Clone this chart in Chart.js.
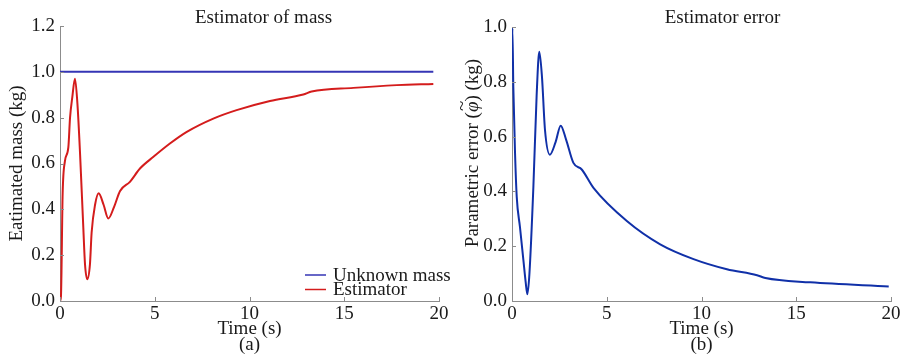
<!DOCTYPE html>
<html>
<head>
<meta charset="utf-8">
<script src="https://cdn.jsdelivr.net/npm/chart.js@4/dist/chart.umd.min.js"></script>
<style>
  body { margin: 0; background: #fff; }
  #wrap { position: relative; width: 904px; height: 356px; overflow: hidden; }
  canvas { position: absolute; top: 0; }
  #massChart { left: 0; }
  #errorChart { left: 450px; }
</style>
</head>
<body>
<div id="wrap">
  <canvas id="massChart" width="470" height="356"></canvas>
  <canvas id="errorChart" width="454" height="356"></canvas>
</div>
<script>
// (a) estimator of mass
const massTime = [0, 0.05, 0.14, 0.26, 0.44, 0.53, 0.65, 0.79, 0.92, 1.06, 1.23, 1.32, 1.44, 1.58, 1.67, 1.85, 2.04, 2.3, 2.55, 2.85, 3.17, 3.69, 4.22, 4.93, 5.8, 6.69, 8.09, 9.32, 11.08, 12.84, 13.28, 15.48, 17.77, 19.7];
const massEstimate = [0, 0.02, 0.47, 0.61, 0.67, 0.80, 0.89, 0.97, 0.86, 0.64, 0.32, 0.16, 0.095, 0.16, 0.30, 0.42, 0.47, 0.42, 0.36, 0.41, 0.48, 0.52, 0.578, 0.629, 0.687, 0.738, 0.796, 0.833, 0.873, 0.901, 0.914, 0.930, 0.942, 0.947];
const trueMassTime = [0, 19.7];
const trueMass = [1.0, 1.0];

// (b) estimator error
const errTime = [0, 0.02, 0.07, 0.16, 0.25, 0.42, 0.6, 0.72, 0.81, 0.92, 1.13, 1.3, 1.44, 1.58, 1.74, 2.0, 2.3, 2.57, 2.85, 3.24, 3.68, 4.3, 6.06, 7.82, 9.58, 11.34, 12.93, 13.37, 15.74, 19.88];
const errValues = [0.93, 0.995, 0.78, 0.54, 0.38, 0.27, 0.15, 0.07, 0.025, 0.1, 0.42, 0.75, 0.91, 0.82, 0.625, 0.534, 0.58, 0.64, 0.59, 0.504, 0.48, 0.413, 0.292, 0.207, 0.153, 0.116, 0.094, 0.084, 0.068, 0.053];

const serif = '"Liberation Serif", "Times New Roman", serif';
const axisColor = '#8c8c8c';
const textColor = '#1a1a1a';

const toPoints = (xs, ys) => xs.map((x, i) => ({ x, y: ys[i] }));

// ticks point into the plot, like the original figure
const inwardTicks = {
  id: 'inwardTicks',
  afterDraw(chart) {
    const { ctx, chartArea: a, scales: { x, y } } = chart;
    ctx.save();
    ctx.strokeStyle = axisColor;
    ctx.lineWidth = 1;
    ctx.beginPath();
    x.ticks.forEach(t => {
      const px = Math.round(x.getPixelForValue(t.value)) + 0.5;
      ctx.moveTo(px, a.bottom);
      ctx.lineTo(px, a.bottom - 4);
    });
    y.ticks.forEach(t => {
      const py = Math.round(y.getPixelForValue(t.value)) + 0.5;
      ctx.moveTo(a.left, py);
      ctx.lineTo(a.left + 4, py);
    });
    ctx.stroke();
    ctx.restore();
  }
};

function drawSegments(ctx, segs, size) {
  // measure, then draw centred on the current origin
  const widths = segs.map(s => {
    ctx.font = (s.italic ? 'italic ' : '') + size + 'px ' + serif;
    return ctx.measureText(s.text).width;
  });
  let x = -widths.reduce((p, w) => p + w, 0) / 2;
  segs.forEach((s, i) => {
    ctx.font = (s.italic ? 'italic ' : '') + size + 'px ' + serif;
    ctx.fillText(s.text, x, 0);
    if (s.tilde) {
      ctx.font = size + 'px ' + serif;
      ctx.textAlign = 'center';
      ctx.fillText('~', x + widths[i] / 2 + 1, -size * 0.55);
      ctx.textAlign = 'left';
    }
    x += widths[i];
  });
}

const panelText = {
  id: 'panelText',
  afterDraw(chart, args, opts) {
    const { ctx, chartArea: a } = chart;
    const cx = (a.left + a.right) / 2;
    ctx.save();
    ctx.fillStyle = textColor;
    ctx.textBaseline = 'middle';
    ctx.textAlign = 'center';
    ctx.font = '19px ' + serif;
    ctx.fillText(opts.title, cx + opts.titleDx, 18);
    ctx.fillText(opts.xTitle, cx, 329);
    ctx.fillText(opts.tag, cx, 345);

    ctx.translate(opts.yTitleX, (a.top + a.bottom) / 2 + opts.yTitleDy);
    ctx.rotate(-Math.PI / 2);
    ctx.textAlign = 'left';
    drawSegments(ctx, opts.yTitle, 19);
    ctx.restore();

    if (opts.legend) {
      ctx.save();
      ctx.textBaseline = 'middle';
      ctx.font = '19px ' + serif;
      chart.data.datasets.forEach((ds, i) => {
        const ly = 275 + i * 14.5;
        ctx.strokeStyle = ds.borderColor;
        ctx.lineWidth = 1.5;
        ctx.beginPath();
        ctx.moveTo(305, ly);
        ctx.lineTo(326, ly);
        ctx.stroke();
        ctx.fillStyle = textColor;
        ctx.fillText(ds.label, 333, ly + 1);
      });
      ctx.restore();
    }
  }
};

function makeOptions(yMax, pad, text) {
  return {
    responsive: false,
    animation: false,
    layout: { padding: pad },
    elements: { point: { radius: 0 } },
    plugins: {
      legend: { display: false },
      tooltip: { enabled: false },
      panelText: text
    },
    scales: {
      x: {
        type: 'linear',
        min: 0,
        max: 20,
        afterFit: s => { s.height = 55; },
        grid: { display: false, drawTicks: false },
        border: { color: axisColor, width: 1 },
        ticks: {
          stepSize: 5,
          padding: 2,
          maxRotation: 0,
          color: textColor,
          font: { family: serif, size: 19 }
        }
      },
      y: {
        min: 0,
        max: yMax,
        afterFit: s => { s.width = pad.yWidth; },
        grid: { display: false, drawTicks: false },
        border: { color: axisColor, width: 1 },
        ticks: {
          stepSize: 0.2,
          padding: 5,
          color: textColor,
          font: { family: serif, size: 19 },
          callback: v => v.toFixed(1)
        }
      }
    }
  };
}

const massOpts = makeOptions(1.2, { left: 0, right: 31, top: 26, bottom: 0, yWidth: 60 }, {
  title: 'Estimator of mass',
  titleDx: 14,
  xTitle: 'Time (s)',
  tag: '(a)',
  yTitle: [{ text: 'Eatimated mass (kg)' }],
  yTitleX: 17,
  yTitleDy: 0,
  legend: true
});

new Chart(document.getElementById('massChart'), {
  type: 'line',
  data: {
    datasets: [
      {
        label: 'Unknown mass',
        data: toPoints(trueMassTime, trueMass),
        borderColor: '#3535b5',
        borderWidth: 2
      },
      {
        label: 'Estimator',
        data: toPoints(massTime, massEstimate),
        borderColor: '#d41c1c',
        borderWidth: 2,
        cubicInterpolationMode: 'monotone'
      }
    ]
  },
  options: massOpts,
  plugins: [inwardTicks, panelText]
});

const errOpts = makeOptions(1.0, { left: 0, right: 13, top: 27, bottom: 0, yWidth: 62 }, {
  title: 'Estimator error',
  titleDx: 21,
  xTitle: 'Time (s)',
  tag: '(b)',
  yTitle: [{ text: 'Parametric error (' }, { text: 'φ', italic: true, tilde: true }, { text: ') (kg)' }],
  yTitleX: 23,
  yTitleDy: -11,
  legend: false
});

new Chart(document.getElementById('errorChart'), {
  type: 'line',
  data: {
    datasets: [{
      label: 'Estimator error',
      data: toPoints(errTime, errValues),
      borderColor: '#1030a8',
      borderWidth: 2,
      cubicInterpolationMode: 'monotone'
    }]
  },
  options: errOpts,
  plugins: [inwardTicks, panelText]
});
</script>
</body>
</html>
